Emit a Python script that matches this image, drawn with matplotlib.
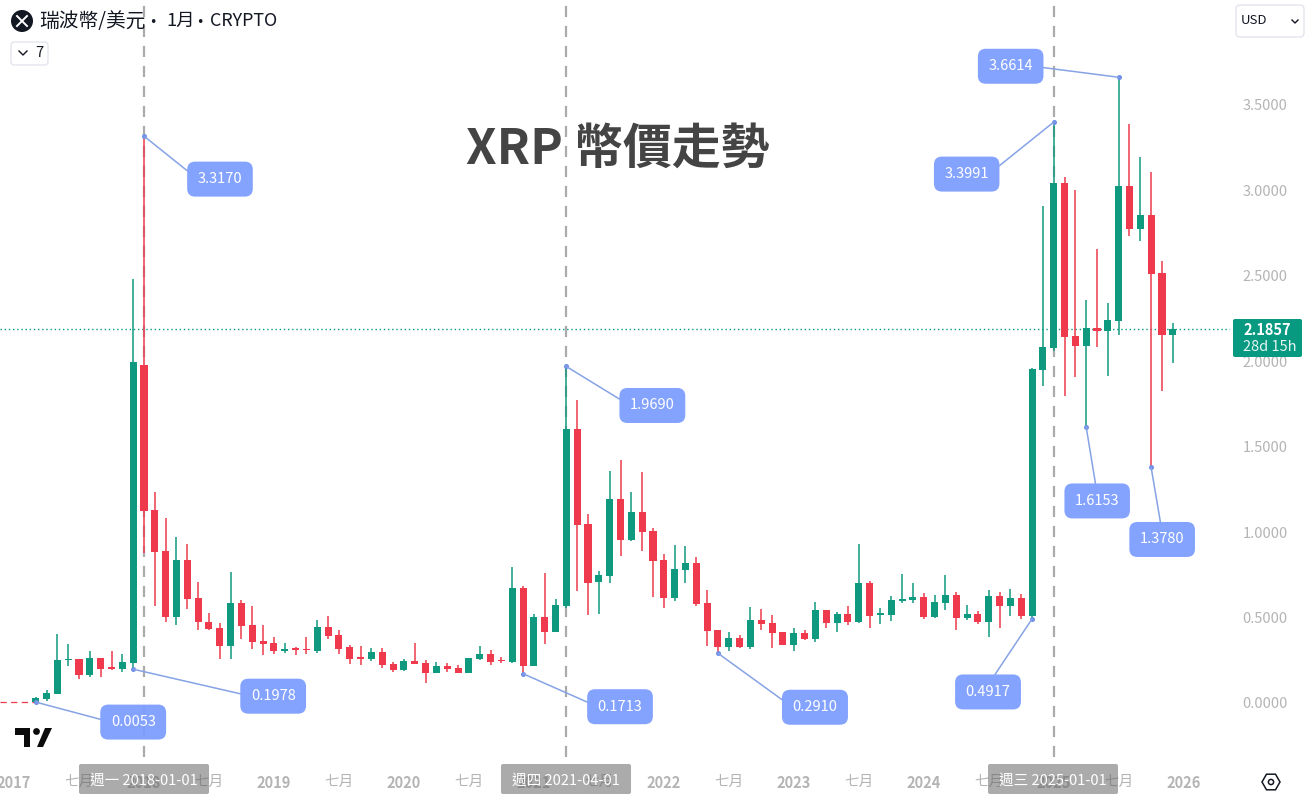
import numpy as np
import pandas as pd
import matplotlib
matplotlib.use("Agg")
import matplotlib.pyplot as plt
from matplotlib.patches import Circle, FancyBboxPatch, Polygon, RegularPolygon

plt.rcParams["font.family"] = ["Noto Sans CJK TC", "DejaVu Sans"]

# monthly candles, 2017-03 to 2025-12
months = pd.date_range("2017-03-01", periods=106, freq="MS")

opens = [
    .0063, .023, .053, .25, .257, .164, .261, .205, .201, .234,
    1.978, 1.129, .889, .503, .837, .615, .474, .439, .335, .585,
    .456, .36, .351, .305, .318, .313, .304, .445, .398, .328,
    .265, .257, .298, .228, .193, .246, .234, .176, .217, .205,
    .176, .257, .287, .25, .24, .673, .218, .503, .415, .568,
    1.603, 1.047, .708, .743, 1.194, .954, 1.118, 1.006, .837, .614,
    .778, .819, .585, .427, .328, .38, .328, .486, .468, .415,
    .339, .41, .374, .544, .468, .521, .474, .702, .515, .515,
    .597, .603, .62, .503, .585, .632, .497, .521, .474, .626,
    .568, .614, .509, 1.949, 2.077, 3.043, 2.147, 2.089, 2.194, 2.177,
    2.235, 3.025, 2.774, 2.855, 2.516, 2.153,
]
highs = [
    .033, .076, .402, .345, .26, .302, .262, .302, .285, 2.48,
    3.317, 1.232, 1.085, .971, .93, .708, .527, .468, .767, .603,
    .565, .456, .386, .351, .326, .384, .484, .509, .427, .339,
    .334, .32, .32, .24, .257, .351, .252, .24, .234, .222,
    .263, .334, .31, .269, .796, .685, .521, .761, .609, 1.969,
    1.773, 1.106, .772, 1.358, 1.422, 1.235, 1.352, 1.024, .872, .925,
    .919, .854, .661, .427, .415, .398, .562, .55, .515, .415,
    .439, .427, .591, .544, .532, .568, .93, .714, .556, .626,
    .755, .702, .644, .632, .749, .65, .573, .538, .661, .65,
    .667, .638, 1.96, 2.908, 3.3991, 3.078, 3.002, 2.358, 2.657, 2.341,
    3.6614, 3.388, 3.195, 3.107, 2.586, 2.224,
]
lows = [
    .0053, .012, .053, .216, .139, .154, .154, .191, .183, .1978,
    .878, .569, .475, .459, .552, .43, .427, .257, .26, .377,
    .318, .283, .287, .294, .278, .287, .294, .375, .287, .228,
    .222, .246, .205, .181, .187, .228, .117, .176, .181, .176,
    .176, .252, .222, .236, .234, .1713, .217, .345, .415, .556,
    .655, .515, .521, .702, .86, .948, .889, .62, .556, .597,
    .702, .568, .334, .291, .304, .322, .316, .427, .322, .339,
    .304, .369, .357, .439, .415, .456, .468, .439, .462, .48,
    .585, .585, .492, .497, .544, .427, .486, .462, .386, .439,
    .509, .492, .4917, 1.855, 2.06, 1.796, 1.908, 1.6153, 2.083, 1.913,
    2.153, 2.733, 2.703, 1.378, 1.826, 1.99,
]
closes = [
    .027, .058, .252, .255, .166, .261, .201, .2, .238, 1.995,
    1.123, .884, .503, .837, .611, .471, .433, .335, .585, .452,
    .358, .348, .306, .315, .31, .308, .445, .392, .316, .257,
    .258, .298, .22, .193, .246, .228, .176, .217, .199, .176,
    .263, .287, .24, .243, .673, .217, .503, .415, .573, 1.603,
    1.042, .702, .749, 1.194, .954, 1.118, 1.001, .831, .614, .784,
    .819, .579, .421, .328, .38, .328, .486, .462, .41, .339,
    .41, .374, .544, .468, .521, .474, .702, .509, .52, .603,
    .609, .62, .503, .591, .632, .497, .521, .474, .626, .568,
    .614, .509, 1.954, 2.083, 3.043, 2.142, 2.089, 2.194, 2.177, 2.241,
    3.025, 2.774, 2.855, 2.51, 2.153, 2.1857,
]

last_price = 2.1857
prelisting_price = 0.005

# half-yearly axis labels, starting January 2017
xtick_labels = [
    "2017", "七月", "2018", "七月", "2019", "七月", "2020", "七月", "2021",
    "七月", "2022", "七月", "2023", "七月", "2024", "七月", "2025", "七月", "2026",
]
ytick_values = [0.0, 0.5, 1.0, 1.5, 2.0, 2.5, 3.0, 3.5]

# marked highs and lows
marked_dates = ["2017-03", "2017-12", "2018-01", "2020-12", "2021-04", "2022-06",
                "2024-11", "2025-01", "2025-04", "2025-07", "2025-10"]
marked_values = [0.0053, 0.1978, 3.3170, 0.1713, 1.9690, 0.2910,
                 0.4917, 3.3991, 1.6153, 3.6614, 1.3780]

crosshair_dates = ["2018-01", "2021-04", "2025-01"]
crosshair_labels = ["週一 2018-01-01", "週四 2021-04-01", "週三 2025-01-01"]

GREEN = "#0f9a80"
RED = "#ee3a4c"
BLUE = "#7b9cff"
LINE = "#86a3e6"
GREY = "#b4b4b4"


def month_pos(date):
    return months.get_loc(pd.Timestamp(date + "-01"))


fig = plt.figure(figsize=(13.07, 7.96), dpi=100)
W, H = 1307, 796

ax = fig.add_axes([0, (H - 764) / H, 1230 / W, 764 / H])
ax.set_xlim(-3.296, 110.28)
ax.set_ylim(-0.357, 4.1135)
for side in ax.spines.values():
    side.set_visible(False)

x = np.arange(len(months))
o, h, l, c = map(np.array, (opens, highs, lows, closes))
colors = [GREEN if b >= a else RED for a, b in zip(o, c)]

ax.vlines(x, l, h, colors=colors, linewidth=1.1, zorder=3)
body = np.maximum(np.abs(c - o), 0.009)
ax.bar(x, body, bottom=np.minimum(o, c), width=0.65, color=colors, linewidth=0, zorder=4)

ax.plot([-3.296, 0], [prelisting_price] * 2, color=RED, lw=0.9, ls=(0, (5, 3.5)), zorder=2)
ax.axhline(last_price, color="#089981", lw=1.0, ls=(0, (1, 2)), zorder=2)

for date in crosshair_dates:
    ax.axvline(month_pos(date), ymin=0.009, color="#ababab", lw=1.6, ls=(0, (5, 4)), zorder=2.5)

ax.set_xticks(np.arange(-2, 107, 6))
ax.set_xticklabels(xtick_labels)
ax.set_yticks(ytick_values)
ax.set_yticklabels([f"{v:.4f}" for v in ytick_values])
ax.yaxis.tick_right()
ax.tick_params(axis="x", length=0, pad=8, labelsize=10.5, labelcolor=GREY)
ax.tick_params(axis="y", length=0, pad=9, labelsize=10.5, labelcolor=GREY)
for lab in ax.get_xticklabels():
    lab.set_fontweight("normal" if lab.get_text() == "七月" else "bold")
for lab in ax.get_yticklabels():
    lab.set_fontweight("medium")

# callouts, offsets in pixels from the marked point to the label centre
offsets = [(97.5, -20), (140, -27), (76, -43), (97, -33), (86, -39), (97, -54),
           (-44, -73), (-87, -52), (11, -74), (-108, 11), (11, -72)]
anchors = [(0, .5), (0, .5), (0, .5), (0, .5), (0, .5), (0, .5),
           (.5, 1), (1, .5), (.5, 1), (1, .5), (.5, 1)]
for date, val, off, rel in zip(marked_dates, marked_values, offsets, anchors):
    pos = month_pos(date)
    ax.plot(pos, val, "o", ms=3.6, color="#6f8fe8", mec="none", zorder=7)
    ax.annotate(
        f"{val:.4f}", xy=(pos, val), xytext=off, textcoords="offset pixels",
        ha="center", va="center", color="white", fontsize=10.5, fontweight="medium",
        bbox=dict(boxstyle="round,pad=0.72,rounding_size=0.55", fc=BLUE, ec="none", alpha=0.93),
        arrowprops=dict(arrowstyle="-", color=LINE, lw=1.1, relpos=rel, shrinkA=0, shrinkB=0),
        zorder=8, annotation_clip=False,
    )

# everything around the plot, in screen pixels
top = fig.add_axes([0, 0, 1, 1], zorder=10)
top.set_xlim(0, W)
top.set_ylim(H, 0)
top.axis("off")
top.patch.set_alpha(0)

top.text(618, 149, "XRP 幣價走勢", ha="center", va="center", fontsize=35.2,
         fontweight="bold", color="#444444")

top.add_patch(Circle((22, 21), 11, fc="#131722", ec="none"))
top.plot([17, 27], [16, 26], color="white", lw=1.4)
top.plot([17, 27], [26, 16], color="white", lw=1.4)
top.text(39, 21, "瑞波幣/美元", ha="left", va="center", fontsize=14.2, color="#131722")
top.text(153, 23, "·", ha="center", va="center", fontsize=12.5, color="#131722")
top.text(166, 21, "1月", ha="left", va="center", fontsize=13.2, color="#131722")
top.text(200, 23, "·", ha="center", va="center", fontsize=12.5, color="#131722")
top.text(210, 21, "CRYPTO", ha="left", va="center", fontsize=12.9, color="#131722")

top.add_patch(FancyBboxPatch((11, 42), 37, 23, boxstyle="round,pad=0,rounding_size=3",
                             fc="white", ec="#e0e3eb", lw=0.9))
top.plot([19, 23, 27], [51, 55, 51], color="#131722", lw=1)
top.text(39, 53, "7", ha="center", va="center", fontsize=10.5, color="#131722")

top.add_patch(FancyBboxPatch((1236, 5), 68, 32, boxstyle="round,pad=0,rounding_size=4",
                             fc="white", ec="#e0e3eb", lw=0.9))
top.text(1254, 21, "USD", ha="center", va="center", fontsize=9.5, color="#131722")
top.plot([1292, 1295, 1298], [20, 23, 20], color="#131722", lw=1)

top.add_patch(FancyBboxPatch((1233, 319), 69, 38, boxstyle="round,pad=0,rounding_size=2",
                             fc="#089981", ec="none"))
top.text(1243, 330, f"{last_price:.4f}", ha="left", va="center", fontsize=10.5,
         fontweight="bold", color="white")
top.text(1243, 347, "28d 15h", ha="left", va="center", fontsize=10.5, color="#e6f5f2")

for date, text, left in zip(crosshair_dates, crosshair_labels, [79, 501, 988]):
    top.add_patch(FancyBboxPatch((left, 764), 130, 30, boxstyle="round,pad=0,rounding_size=2",
                                 fc="#666666", ec="none", alpha=0.55))
    top.text(left + 65, 781, text, ha="center", va="center", fontsize=10.5,
             fontweight="medium", color="white")

# TradingView mark
top.add_patch(Polygon([(15, 728), (30, 728), (30, 747), (24, 747), (24, 735), (15, 735)],
                      fc="#0b0b0b", ec="none"))
top.add_patch(Circle((36.5, 731.5), 3.4, fc="#0b0b0b", ec="none"))
top.add_patch(Polygon([(37, 747), (45, 728), (52, 728), (43, 747)], fc="#0b0b0b", ec="none"))

# settings button
top.add_patch(RegularPolygon((1271, 782), 6, radius=9, orientation=np.pi / 6,
                             fc="white", ec="#131722", lw=1.1))
top.add_patch(Circle((1271, 782), 2.6, fc="white", ec="#131722", lw=1.1))

fig.savefig("out.png", dpi=100)
